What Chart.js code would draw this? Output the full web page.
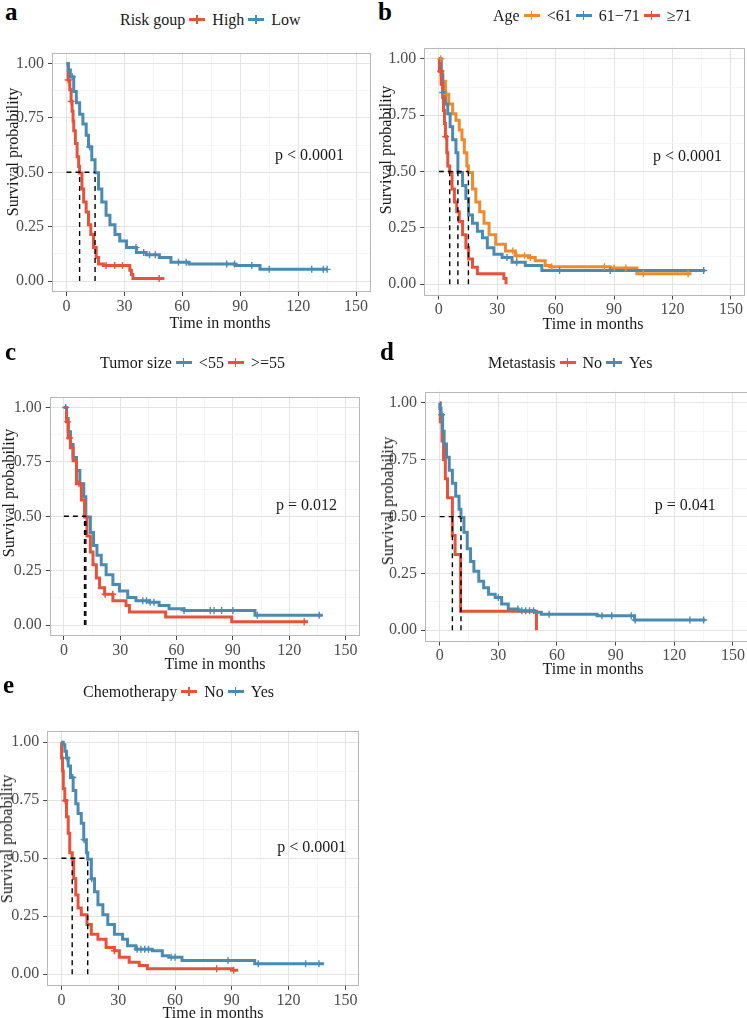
<!DOCTYPE html>
<html>
<head>
<meta charset="utf-8">
<script src="https://cdn.jsdelivr.net/npm/chart.js@4.4.0/dist/chart.umd.min.js"></script>
<style>
html,body{margin:0;padding:0;background:#fff;width:747px;height:1018px;overflow:hidden;position:relative;
  font-family:'Liberation Serif','Times New Roman',serif;}
canvas{position:absolute}
.txt{position:absolute;white-space:nowrap;font-size:16px;line-height:16px;color:#1a1a1a}
.letter{position:absolute;font-weight:bold;font-size:25px;line-height:25px;color:#000}
.key{display:inline-block;width:16px;height:3px;position:relative;vertical-align:middle;margin:0 7px 0 4px;top:-1px}
.key i{position:absolute;left:7px;top:-3px;width:1.5px;height:9px}
</style>
</head>
<body>
<script>
/* ---------------- axes ---------------- */
const xTickVals = [0,30,60,90,120,150];
const xTickLabels = ['0','30','60','90','120','150'];
const xMinorVals = [15,45,75,105,135];
const yTickVals = [0,0.25,0.5,0.75,1];
const yTickLabels = ['0.00','0.25','0.50','0.75','1.00'];
const yMinorVals = [0.125,0.375,0.625,0.875];

const RED = '#E6533A', BLUE = '#4A8BB4', ORANGE = '#F08A2B';

/* ---------------- a: risk group ---------------- */
const aGroups = ['High','Low'];
const aHighT = [0,0.85,1.7,2.4,2.9,3.4,3.75,4.6,5.5,6.3,6.8,8.0,8.9,10.2,11.4,12.6,14.0,15.4,16.6,19.1,32.8,33.6,34.4,50.7];
const aHighS = [1,0.924,0.879,0.826,0.781,0.736,0.691,0.632,0.572,0.527,0.497,0.423,0.363,0.318,0.259,0.214,0.154,0.109,0.079,0.072,0.05,0.03,0.012,0.012];
const aHighCens = [0.9,2.4,20.5,25,29,48];
const aLowT = [0,1,2.0,3.75,5.1,6.8,8.5,10.2,11.4,13.1,14.8,16.6,18.3,20.5,22.5,25.1,27.6,31.1,36.2,41.3,48.1,54.1,63.5,87.4,100.2,135];
const aLowS = [1,0.97,0.939,0.871,0.819,0.767,0.722,0.670,0.617,0.558,0.498,0.423,0.363,0.303,0.259,0.214,0.184,0.154,0.132,0.121,0.109,0.087,0.079,0.072,0.054,0.054];
const aLowCens = [3,12,36,40,43,46,58,62,83,87,96,105,127,133,135];
const aMedians = [6.8,14.8];

/* ---------------- b: age ---------------- */
const bGroups = ['<61','61\u221271','\u226571'];
const bYoungT = [0,1.2,2.0,3.4,5.1,7.1,8.8,10.5,11.9,13.1,14.4,15.2,17.3,19.0,21.0,23.2,25.8,29.2,34.2,39.3,46.1,49.5,54.6,57,88,101.7,129.6];
const bYoungS = [1,0.945,0.901,0.843,0.8,0.757,0.728,0.684,0.641,0.583,0.525,0.496,0.423,0.365,0.322,0.271,0.22,0.177,0.148,0.126,0.119,0.104,0.083,0.078,0.072,0.046,0.046];
const bYoungCens = [1,4,38,40,44,47,58,85,90,96,105,128];
const bMidT = [0,1.2,2.0,3.4,4.6,5.8,7.1,8.8,9.8,12.2,13.9,15.3,17.3,19.8,22.4,24.9,28.3,32.5,37.6,44.4,52.9,136.6];
const bMidS = [1,0.93,0.851,0.8,0.757,0.699,0.641,0.583,0.496,0.438,0.38,0.307,0.271,0.235,0.206,0.162,0.133,0.119,0.097,0.083,0.061,0.061];
const bMidCens = [2,35,40,62,88,136];
const bOldT = [0,0.3,1.2,2.0,2.4,2.9,3.4,4.1,4.6,5.6,6.8,8.0,9.2,10.5,12.2,13.9,15.3,17.3,19.8,33.4,34.5];
const bOldS = [1,0.945,0.887,0.829,0.771,0.713,0.655,0.583,0.525,0.496,0.423,0.365,0.322,0.278,0.22,0.162,0.112,0.075,0.046,0.025,0.0];
const bOldCens = [1,3.5];
const bMedians = [15.2,9.8,5.6];

/* ---------------- c: tumor size ---------------- */
const cGroups = ['<55','>=55'];
const cSmallT = [0,1.4,2.3,3.5,4.9,6.7,8.5,10.6,11.7,14.1,15.8,17.6,19.9,22.5,26.1,29.6,34.0,38.4,45.4,50.7,56,64,101.8,137.9];
const cSmallS = [1,0.949,0.889,0.83,0.77,0.71,0.65,0.59,0.497,0.426,0.366,0.321,0.277,0.232,0.187,0.157,0.127,0.112,0.105,0.09,0.075,0.067,0.045,0.045];
const cSmallCens = [1,42,44,46,48,64,78,80,84,90,103,136];
const cLargeT = [0,1.4,2.3,3.5,4.9,6.7,9.3,11.0,12.3,14.1,15.5,17.3,19.0,21.7,26.1,33.1,34.9,54.2,89.4,130];
const cLargeS = [1,0.934,0.86,0.815,0.755,0.65,0.575,0.497,0.41,0.336,0.277,0.217,0.172,0.142,0.112,0.09,0.06,0.037,0.015,0.015];
const cLargeCens = [2,3,8,22,26,128];
const cMedians = [11.7,11.0];

/* ---------------- d: metastasis ---------------- */
const dGroups = ['No','Yes'];
const dNoT = [0,0.3,1.2,2.0,2.9,4.0,6.5,7.9,10.7,49.5];
const dNoS = [1,0.917,0.833,0.75,0.667,0.583,0.417,0.333,0.083,0];
const dNoCens = [];
const dYesT = [0,0.1,0.7,1.5,2.3,3.5,4.9,6.5,8.2,9.9,10.9,12.4,14.1,15.8,17.5,20.0,22.5,25.0,28.4,31.7,35.1,40.1,48.5,52,80.5,99.7,135.9];
const dYesS = [1,0.977,0.948,0.876,0.819,0.761,0.704,0.647,0.589,0.532,0.496,0.431,0.359,0.302,0.259,0.216,0.187,0.158,0.144,0.115,0.093,0.086,0.079,0.07,0.064,0.045,0.045];
const dYesCens = [1,30,40,42,44,46,48,56,83,88,98,100,128,135];
const dMedians = [6.5,10.9];

/* ---------------- e: chemotherapy ---------------- */
const eGroups = ['No','Yes'];
const eNoT = [0,0.1,0.6,1.0,1.8,2.7,3.6,4.4,5.7,6.5,7.6,8.8,10.5,13.5,15.8,19.3,23.6,28.0,30.6,35.8,41.1,45.4,89.9,93.4];
const eNoS = [1,0.932,0.876,0.799,0.749,0.679,0.608,0.524,0.496,0.411,0.341,0.285,0.256,0.214,0.172,0.151,0.115,0.101,0.073,0.052,0.038,0.024,0.017,0.017];
const eNoCens = [2,28,82,91];
const eYesT = [0,1.0,1.8,2.7,3.6,4.8,6.2,7.6,8.8,10.5,11.8,13.2,13.9,15.8,17.5,19.3,21.9,24.5,28.0,32.3,34.9,39.3,48.0,53.3,56.7,63.7,102.1,138.7];
const eYesS = [1,0.989,0.961,0.932,0.897,0.848,0.792,0.735,0.693,0.651,0.58,0.524,0.496,0.411,0.355,0.299,0.256,0.214,0.172,0.151,0.123,0.108,0.101,0.08,0.073,0.059,0.045,0.045];
const eYesCens = [3,6,12,16,40,42,44,46,58,60,88,104,129,136];
const eMedians = [5.7,13.9];

/* ---------------- panel layout ---------------- */
const panels = [
  {letter:'a', letterAt:[5,20], title:'Risk goup', groups:aGroups, colors:[RED,BLUE],
   curves:[[aHighT,aHighS,aHighCens],[aLowT,aLowS,aLowCens]], medians:aMedians,
   pval:'p < 0.0001', pvalAt:[108,0.574], area:{L:52,T:47,R:373.5,B:292},
   legendAt:[120,25], xTitleAt:[220,328], yTitleAt:[13,152]},
  {letter:'b', letterAt:[378,20], title:'Age', groups:bGroups, colors:[ORANGE,BLUE,RED],
   curves:[[bYoungT,bYoungS,bYoungCens],[bMidT,bMidS,bMidCens],[bOldT,bOldS,bOldCens]], medians:bMedians,
   pval:'p < 0.0001', pvalAt:[110,0.565], area:{L:424.2,T:42.5,R:749,B:295.5},
   legendAt:[493,21], xTitleAt:[593,329], yTitleAt:[386,150]},
  {letter:'c', letterAt:[5,360], title:'Tumor size', groups:cGroups, colors:[BLUE,RED],
   curves:[[cSmallT,cSmallS,cSmallCens],[cLargeT,cLargeS,cLargeCens]], medians:cMedians,
   pval:'p = 0.012', pvalAt:[113,0.547], area:{L:49.8,T:391,R:362.2,B:636},
   legendAt:[100,368], xTitleAt:[215,669], yTitleAt:[9,493]},
  {letter:'d', letterAt:[380,360], title:'Metastasis', groups:dGroups, colors:[RED,BLUE],
   curves:[[dNoT,dNoS,dNoCens],[dYesT,dYesS,dYesCens]], medians:dMedians,
   pval:'p = 0.041', pvalAt:[110,0.547], area:{L:425,T:386.7,R:750.5,B:641.6},
   legendAt:[488,368], xTitleAt:[593,674], yTitleAt:[388,501]},
  {letter:'e', letterAt:[3,693], title:'Chemotherapy', groups:eGroups, colors:[RED,BLUE],
   curves:[[eNoT,eNoS,eNoCens],[eYesT,eYesS,eYesCens]], medians:eMedians,
   pval:'p < 0.0001', pvalAt:[114,0.545], area:{L:47.2,T:725.5,R:362.6,B:985.8},
   legendAt:[83,697], xTitleAt:[213,1018], yTitleAt:[7,839]}
];

/* ---------------- helpers ---------------- */
function survAt(T,S,t){
  let v = S[0];
  for(let i=0;i<T.length;i++){ if(T[i]<=t) v = S[i]; }
  return v;
}
function addText(cls, text, left, top, extra){
  const d = document.createElement('div');
  d.className = cls;
  d.textContent = text;
  d.style.left = left+'px';
  d.style.top = top+'px';
  if(extra) Object.assign(d.style, extra);
  document.body.appendChild(d);
  return d;
}
function addLegend(p){
  const d = document.createElement('div');
  d.className = 'txt';
  d.style.left = p.legendAt[0]+'px';
  d.style.top = (p.legendAt[1]-13.4)+'px';
  const t = document.createElement('span');
  t.textContent = p.title;
  d.appendChild(t);
  p.groups.forEach((g,i)=>{
    const k = document.createElement('span');
    k.className = 'key';
    k.style.background = p.colors[i];
    const tick = document.createElement('i');
    tick.style.background = p.colors[i];
    k.appendChild(tick);
    d.appendChild(k);
    const l = document.createElement('span');
    l.textContent = g;
    d.appendChild(l);
  });
  document.body.appendChild(d);
}

const framePlugin = {
  id:'frame',
  afterDatasetsDraw(chart){
    const {ctx, chartArea:a} = chart;
    ctx.save();
    ctx.strokeStyle = '#b8b8b8';
    ctx.lineWidth = 1;
    ctx.strokeRect(Math.round(a.left)+0.5, Math.round(a.top)+0.5, Math.round(a.right-a.left)-1, Math.round(a.bottom-a.top)-1);
    ctx.restore();
  }
};
const pvalPlugin = {
  id:'pval',
  afterDatasetsDraw(chart, args, opts){
    const {ctx, scales} = chart;
    ctx.save();
    ctx.font = "16px 'Liberation Serif'";
    ctx.fillStyle = '#1a1a1a';
    ctx.textAlign = 'left';
    ctx.textBaseline = 'middle';
    ctx.fillText(opts.text, scales.x.getPixelForValue(opts.x), scales.y.getPixelForValue(opts.y));
    ctx.restore();
  }
};

function buildPanel(p){
  const A = p.area;
  const cl = Math.floor(A.L) - 52, ct = Math.floor(A.T) - 8;
  const cw = Math.ceil(A.R) - cl + 2, ch = Math.ceil(A.B) - ct + 28;
  const cv = document.createElement('canvas');
  cv.width = cw; cv.height = ch;
  cv.style.left = cl+'px'; cv.style.top = ct+'px';
  document.body.appendChild(cv);
  const yW = A.L - cl, padT = A.T - ct, padR = cl + cw - A.R, xH = ch - (A.B - ct);

  const datasets = [];
  p.curves.forEach(([T,S,C],gi)=>{
    datasets.push({
      data: T.map((t,i)=>({x:t,y:S[i]})),
      showLine:true, stepped:true, borderColor:p.colors[gi], borderWidth:3,
      pointRadius:0, order:20-gi
    });
    datasets.push({
      data: C.map(t=>({x:t,y:survAt(T,S,t)})),
      showLine:false, pointStyle:'cross', pointRadius:3.5, pointBorderWidth:1.4,
      pointBorderColor:p.colors[gi], borderColor:p.colors[gi], order:10-gi
    });
  });
  const mMax = Math.max(...p.medians);
  datasets.push({
    data:[{x:0,y:0.5},{x:mMax,y:0.5}], showLine:true, borderColor:'#000',
    borderWidth:1.4, borderDash:[5,4], pointRadius:0, order:0
  });
  p.medians.forEach(m=>{
    datasets.push({
      data:[{x:m,y:0},{x:m,y:0.5}], showLine:true, borderColor:'#000',
      borderWidth:1.4, borderDash:[5,4], pointRadius:0, order:0
    });
  });

  const tickFont = {family:'Liberation Serif', size:16};
  new Chart(cv,{
    type:'scatter',
    data:{datasets},
    options:{
      responsive:false, animation:false, events:[],
      layout:{padding:{top:padT, right:padR, left:0, bottom:0}},
      plugins:{legend:{display:false}, tooltip:{enabled:false},
        pval:{text:p.pval, x:p.pvalAt[0], y:p.pvalAt[1]}},
      scales:{
        x:{
          type:'linear', min:-7.5, max:157.5,
          afterBuildTicks:s=>{ s.ticks = [...xTickVals, ...xMinorVals].sort((a,b)=>a-b).map(v=>({value:v})); },
          afterFit:s=>{ s.height = xH; },
          border:{display:false},
          grid:{
            color:c=>xTickVals.includes(c.tick.value)?'#e4e4e4':'#f2f2f2',
            lineWidth:c=>xTickVals.includes(c.tick.value)?1:0.7,
            tickLength:4, tickWidth:1,
            tickColor:c=>xTickVals.includes(c.tick.value)?'#444':'rgba(0,0,0,0)'
          },
          ticks:{font:tickFont, color:'#4d4d4d', padding:1, maxRotation:0, autoSkip:false,
            callback:v=>{ const i = xTickVals.indexOf(v); return i>=0 ? xTickLabels[i] : ''; }}
        },
        y:{
          type:'linear', min:-0.05, max:1.05,
          afterBuildTicks:s=>{ s.ticks = [...yTickVals, ...yMinorVals].sort((a,b)=>a-b).map(v=>({value:v})); },
          afterFit:s=>{ s.width = yW; },
          border:{display:false},
          grid:{
            color:c=>yTickVals.includes(c.tick.value)?'#e4e4e4':'#f2f2f2',
            lineWidth:c=>yTickVals.includes(c.tick.value)?1:0.7,
            tickLength:4, tickWidth:1,
            tickColor:c=>yTickVals.includes(c.tick.value)?'#444':'rgba(0,0,0,0)'
          },
          ticks:{font:tickFont, color:'#4d4d4d', padding:4, autoSkip:false,
            callback:v=>{ const i = yTickVals.indexOf(v); return i>=0 ? yTickLabels[i] : ''; }}
        }
      }
    },
    plugins:[framePlugin, pvalPlugin]
  });

  addText('letter', p.letter, p.letterAt[0], p.letterAt[1]-20.9);
  addLegend(p);
  addText('txt', 'Time in months', p.xTitleAt[0], p.xTitleAt[1]-13.4, {transform:'translateX(-50%)'});
  addText('txt', 'Survival probability', p.yTitleAt[0], p.yTitleAt[1],
    {transform:'translate(-50%,-50%) rotate(-90deg)'});
}

panels.forEach(buildPanel);
</script>
</body>
</html>
